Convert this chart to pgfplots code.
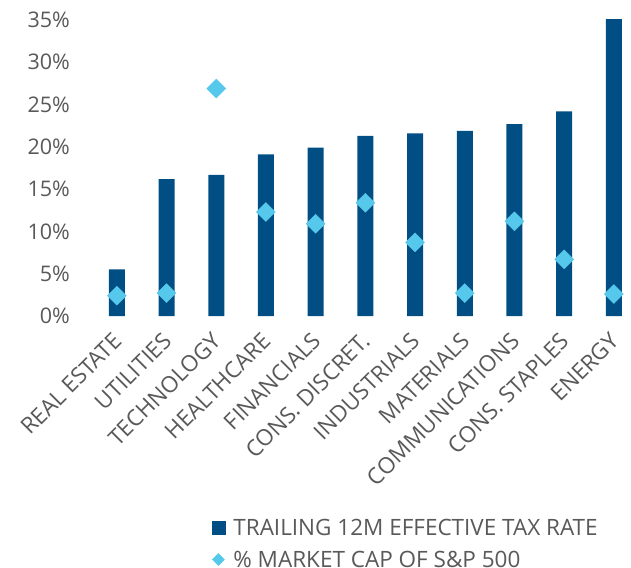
\documentclass[border=0pt]{standalone}
\usepackage{pgfplots}
\pgfplotsset{compat=1.18}
\usepackage{fontspec}
\setmainfont{Open Sans}
\definecolor{barblue}{HTML}{004E84}
\definecolor{capblue}{HTML}{55C8EB}
\definecolor{txtgrey}{HTML}{595959}

\begin{document}
\begin{tikzpicture}[x=1pt,y=1pt]
\path[use as bounding box] (0,0) rectangle (631,-567);
\begin{axis}[
    at={(92pt,-316pt)}, anchor=south west,
    scale only axis,
    width=546.7pt, height=296pt,
    xmin=-0.5, xmax=10.5,
    ymin=0, ymax=35,
    axis line style={draw=none},
    major tick length=0pt,
    clip=false,
    font=\fontsize{21.5}{24}\selectfont\color{txtgrey},
    ytick={0,5,...,35},
    yticklabels={0\%,5\%,10\%,15\%,20\%,25\%,30\%,35\%},
    yticklabel style={anchor=east, inner sep=0pt, xshift=-22pt},
    xtick={0,...,10},
    xticklabels={REAL ESTATE,UTILITIES,TECHNOLOGY,HEALTHCARE,FINANCIALS,CONS. DISCRET.,INDUSTRIALS,MATERIALS,COMMUNICATIONS,CONS. STAPLES,ENERGY},
    xticklabel style={xshift=-5pt, yshift=-15pt, rotate=45, anchor=north east, inner sep=0pt,
        font=\fontsize{22.5}{24}\selectfont\color{txtgrey}},
    legend style={at={(axis description cs:0.2195,-0.678)}, anchor=north west,
        draw=none, fill=none, inner sep=0pt, row sep=10pt,
        nodes={inner sep=2pt},
        font=\fontsize{22.5}{24}\selectfont\color{txtgrey}},
    legend cell align=left,
]

% Trailing 12M effective tax rate
\addplot[ybar, bar width=16pt, bar shift=0pt, fill=barblue, draw=none,
    legend image code/.code={\fill[barblue] (0pt,-7pt) rectangle (14pt,7pt);
        \path[draw=none, fill=none] (0pt,0pt) -- (19pt,0pt);}]
coordinates {
    (0,5.5) (1,16.2) (2,16.7) (3,19.1) (4,19.9) (5,21.3)
    (6,21.6) (7,21.9) (8,22.7) (9,24.2) (10,35.1)
};
\addlegendentry{TRAILING 12M EFFECTIVE TAX RATE}

% Share of S&P 500 market cap
\addplot[only marks, mark=square*, mark size=6.7pt,
    mark options={rotate=45, fill=capblue, draw=capblue},
    legend image code/.code={\fill[capblue] (6pt,-6pt) -- (12pt,0pt) -- (6pt,6pt) -- (0pt,0pt) -- cycle;
        \path[draw=none, fill=none] (0pt,0pt) -- (19pt,0pt);}]
coordinates {
    (0,2.4) (1,2.7) (2,26.9) (3,12.3) (4,10.9) (5,13.4)
    (6,8.7) (7,2.7) (8,11.2) (9,6.7) (10,2.6)
};
\addlegendentry{\% MARKET CAP OF S\&P 500}

\end{axis}
\end{tikzpicture}
\end{document}
